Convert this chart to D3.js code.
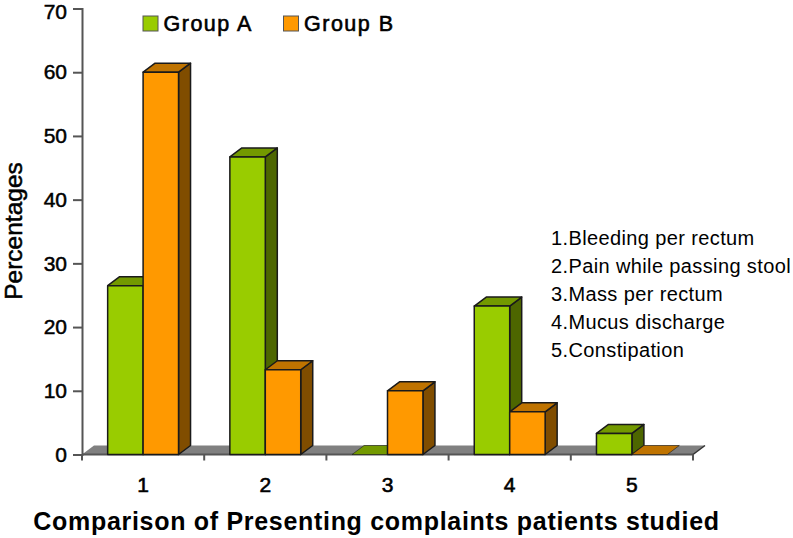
<!DOCTYPE html>
<html>
<head>
<meta charset="utf-8">
<style>
  body { margin: 0; background: #fff; }
  svg { display: block; }
  text { font-family: "Liberation Sans", Arial, sans-serif; fill: #000; }
</style>
<script src="https://cdn.jsdelivr.net/npm/d3@7"></script>
</head>
<body>
<div id="chart"></div>
<script>
// Values
const categories = ['1', '2', '3', '4', '5'];
const groups = ['Group A', 'Group B'];
const groupA = [26.5, 46.7, 0, 23.3, 3.3];
const groupB = [60, 13.3, 10, 6.7, 0];
const yTicks = [0, 10, 20, 30, 40, 50, 60, 70];
const complaints = [
  '1.Bleeding per rectum',
  '2.Pain while passing stool',
  '3.Mass per rectum',
  '4.Mucus discharge',
  '5.Constipation'
];

const colors = {
  'Group A': { front: '#99cc00', top: '#739900', side: '#4d6600' },
  'Group B': { front: '#ff9900', top: '#bf7300', side: '#804d00' }
};
const lineColor = '#1a1a1a';
const axisColor = '#555';

const width = 793, height = 538;
const depthX = 12, depthY = 9;

const svg = d3.select('#chart').append('svg')
  .attr('width', width)
  .attr('height', height)
  .attr('viewBox', [0, 0, width, height]);

const x = d3.scaleBand().domain(categories).range([82, 693]).paddingInner(0.42).paddingOuter(0.21);
const xInner = d3.scaleBand().domain(groups).range([0, x.bandwidth()]);
const y = d3.scaleLinear().domain([0, 70]).range([454.5, 8.5]);

// grey floor of the 3D plot
const x0 = x.range()[0], x1 = x.range()[1], y0 = y(0);
svg.append('path')
  .attr('d', `M${x0},${y0}L${x0 + depthX},${y0 - depthY}L${x1 + depthX},${y0 - depthY}L${x1},${y0}Z`)
  .attr('fill', '#808080');

// y axis
const yAxis = svg.append('g')
  .attr('transform', `translate(${x0},0)`)
  .call(d3.axisLeft(y).tickValues(yTicks).tickSize(9).tickPadding(6));
yAxis.selectAll('path, line').attr('stroke', axisColor).attr('stroke-width', 2);
yAxis.selectAll('text')
  .style('font-size', '21px')
  .attr('stroke', '#000').attr('stroke-width', 0.5);
// the top label sits a little lower so it stays on the page
yAxis.selectAll('.tick').filter(d => d === 70).select('text').attr('y', 3);

// x axis
const xAxis = svg.append('g')
  .attr('transform', `translate(0,${y0})`);
xAxis.append('line')
  .attr('x1', x0).attr('x2', x1)
  .attr('stroke', axisColor).attr('stroke-width', 2);
xAxis.selectAll('line.tick')
  .data(d3.range(categories.length + 1))
  .enter().append('line')
  .attr('class', 'tick')
  .attr('x1', i => x0 + i * x.step())
  .attr('x2', i => x0 + i * x.step())
  .attr('y1', 0).attr('y2', 6)
  .attr('stroke', axisColor).attr('stroke-width', 2);
// little edge at the far end of the floor
xAxis.append('line')
  .attr('x1', x1).attr('y1', 0)
  .attr('x2', x1 + depthX).attr('y2', -depthY)
  .attr('stroke', '#333').attr('stroke-width', 1.5);

xAxis.selectAll('text.cat')
  .data(categories)
  .enter().append('text')
  .attr('class', 'cat')
  .attr('x', d => x(d) + x.bandwidth() / 2)
  .attr('y', 37)
  .attr('text-anchor', 'middle')
  .attr('stroke', '#000').attr('stroke-width', 0.6)
  .style('font-size', '21px')
  .text(d => d);

// bars, group A first so B overlaps its side
const series = [
  { name: 'Group A', values: groupA },
  { name: 'Group B', values: groupB }
];

series.forEach(s => {
  const c = colors[s.name];
  const g = svg.append('g');
  s.values.forEach((v, i) => {
    const left = x(categories[i]) + xInner(s.name);
    const right = left + xInner.bandwidth();
    const top = y(v);
    const bar = g.append('g')
      .attr('stroke', lineColor)
      .attr('stroke-width', 1.5)
      .attr('stroke-linejoin', 'round');

    // side face
    if (v > 0) {
      bar.append('path')
        .attr('d', `M${right},${top}L${right + depthX},${top - depthY}L${right + depthX},${y0 - depthY}L${right},${y0}Z`)
        .attr('fill', c.side);
    }
    // top face
    bar.append('path')
      .attr('d', `M${left},${top}L${left + depthX},${top - depthY}L${right + depthX},${top - depthY}L${right},${top}Z`)
      .attr('fill', c.top)
      .attr('stroke-width', v > 0 ? 1.5 : 0.6);
    // front face
    if (v > 0) {
      bar.append('rect')
        .attr('x', left)
        .attr('y', top)
        .attr('width', right - left)
        .attr('height', y0 - top)
        .attr('fill', c.front);
    }
  });
});

// axis titles
svg.append('text')
  .attr('transform', 'translate(22.3,231) rotate(-90)')
  .attr('text-anchor', 'middle')
  .attr('stroke', '#000').attr('stroke-width', 0.5)
  .style('font-size', '24.5px')
  .text('Percentages');

svg.append('text')
  .attr('x', 376.5)
  .attr('y', 530)
  .attr('text-anchor', 'middle')
  .style('font-size', '25px')
  .style('letter-spacing', '0.7px')
  .style('font-weight', 'bold')
  .text('Comparison of Presenting complaints patients studied');

// legend
const legendX = [143, 283.5];
groups.forEach((name, i) => {
  const item = svg.append('g').attr('transform', `translate(${legendX[i]},16)`);
  item.append('rect')
    .attr('width', 15).attr('height', 15)
    .attr('fill', colors[name].front)
    .attr('stroke', '#555').attr('stroke-width', 1);
  item.append('text')
    .attr('x', 20.5).attr('y', 14.5)
    .attr('stroke', '#000').attr('stroke-width', 0.6)
    .style('font-size', '21.5px')
    .style('letter-spacing', '1.5px')
    .text(name);
});

// key of the complaints
svg.selectAll('text.key')
  .data(complaints)
  .enter().append('text')
  .attr('class', 'key')
  .attr('x', 551)
  .attr('y', (d, i) => 245 + i * 28)
  .style('font-size', '20px')
  .style('letter-spacing', '0.38px')
  .text(d => d);
</script>
</body>
</html>
